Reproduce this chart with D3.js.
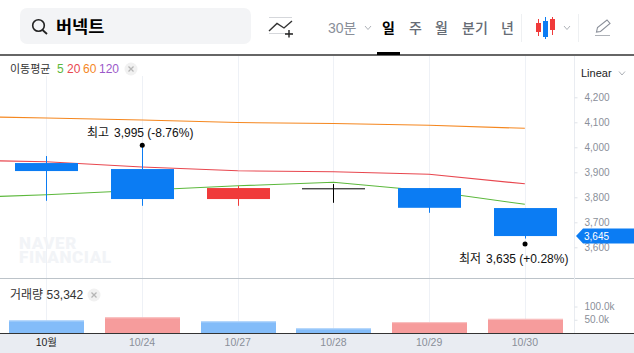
<!DOCTYPE html>
<html>
<head>
<meta charset="utf-8">
<script src="https://cdn.jsdelivr.net/npm/d3@7"></script>
<style>
body { margin: 0; background: #fff; overflow: hidden; }
text { font-family: "Liberation Sans", "Noto Sans CJK KR", sans-serif; }
.axis path { display: none; }
</style>
</head>
<body>
<div id="chart"></div>
<script>
const width = 634, height = 353;

// Values
const dates = ["10월", "10/24", "10/27", "10/28", "10/29", "10/30"];
const opens = [3937, 3913, 3793, 3836, 3837, 3757];
const closes = [3905, 3793, 3837, 3836, 3758, 3645];
const highs = [3965, 3995, 3845, 3853, 3837, 3757];
const lows = [3786, 3766, 3766, 3778, 3738, 3635];
const volumes = [47600, 59000, 44000, 17500, 41000, 53342];
const volumeUp = [false, true, false, false, true, true];
// first entry of each average belongs to the day before the view
const ma5 = [3797, 3810, 3828, 3846, 3860, 3825, 3772];
const ma20 = [3950, 3942, 3921, 3906, 3902, 3892, 3854];
const ma60 = [4125, 4117, 4109, 4099, 4095, 4088, 4076];
const priceTicks = [3600, 3700, 3800, 3900, 4000, 4100, 4200];
const volumeTicks = [50000, 100000];
const periods = ["일", "주", "월", "분기", "년"];

const blue = "#0b7cf3", red = "#f03a3a";
const tickFont = "\"Liberation Sans\", \"Noto Sans CJK KR\"";

const svg = d3.select("#chart").append("svg")
    .attr("width", width)
    .attr("height", height)
    .style("display", "block");

const x = d3.scaleBand().domain(dates).range([-1.5, 572.7]);
const cx = d => x(d) + x.bandwidth() / 2;
const maX = i => i === 0 ? cx(dates[0]) - x.step() : cx(dates[i - 1]);
const y = d3.scaleLinear().domain([3600, 4200]).range([247.3, 97.3]);
const yVol = d3.scaleLinear().domain([0, 100000]).range([333, 306.5]);

// Vertical grid lines
svg.append("g").selectAll("line").data(dates).join("line")
    .attr("x1", d => Math.round(cx(d)) + 0.5).attr("x2", d => Math.round(cx(d)) + 0.5)
    .attr("y1", (d, i) => i < 2 ? 76 : 56).attr("y2", 333)
    .attr("stroke", "#eef1f6");

// Watermark
svg.append("g").attr("fill", "#f2f4f7")
    .style("font-size", "17px").style("letter-spacing", "0.6px")
    .selectAll("text").data(["NAVER", "FINANCIAL"]).join("text")
    .style("font-family", "Roboto")
    .style("font-weight", 900)
    .attr("x", 19).attr("y", (d, i) => 249 + i * 14).text(d => d);

// Moving averages
const line = d3.line().x((d, i) => maX(i)).y(d => y(d)).curve(d3.curveLinear);
[[ma60, "#f5871f"], [ma20, "#e8474f"], [ma5, "#5cb83c"]].forEach(([s, c]) => {
    svg.append("path").datum(s)
        .attr("d", line)
        .attr("fill", "none")
        .attr("stroke", c)
        .attr("stroke-width", 1.1);
});

// Candles
const candle = svg.append("g").selectAll("g").data(dates).join("g");
const candleColor = (d, i) => closes[i] === opens[i] ? "#000" : (closes[i] > opens[i] ? red : blue);
candle.append("line")
    .attr("x1", d => Math.round(cx(d)) + 0.5).attr("x2", d => Math.round(cx(d)) + 0.5)
    .attr("y1", (d, i) => y(highs[i]) - (i === 1 ? 3 : 0))
    .attr("y2", (d, i) => y(lows[i]))
    .attr("stroke", candleColor);
candle.append("rect")
    .attr("x", d => Math.round(cx(d)) - 31)
    .attr("width", 63)
    .attr("y", (d, i) => y(Math.max(opens[i], closes[i])))
    .attr("height", (d, i) => Math.max(1, Math.abs(y(opens[i]) - y(closes[i]))))
    .attr("fill", candleColor);

// High and low markers
svg.append("circle").attr("cx", cx(dates[1]) + 0.2).attr("cy", y(d3.max(highs)) - 3.2).attr("r", 2.5).attr("fill", "#000");
svg.append("circle").attr("cx", cx(dates[5]) + 0.2).attr("cy", y(d3.min(lows)) + 5.5).attr("r", 2.5).attr("fill", "#000");
svg.append("text").attr("x", 87).attr("y", 137).attr("font-size", 12).attr("fill", "#111").text("최고");
svg.append("text").attr("x", 114).attr("y", 137).attr("font-size", 12).attr("fill", "#111").text("3,995 (-8.76%)");
svg.append("text").attr("x", 459).attr("y", 263).attr("font-size", 12).attr("fill", "#111").text("최저");
svg.append("text").attr("x", 486).attr("y", 263).attr("font-size", 12).attr("fill", "#111").text("3,635 (+0.28%)");

// Volume bars
const vol = svg.append("g").selectAll("g").data(dates).join("g");
vol.append("rect")
    .attr("x", d => Math.round(cx(d)) - 37).attr("width", 75)
    .attr("y", (d, i) => yVol(volumes[i]))
    .attr("height", (d, i) => 333 - yVol(volumes[i]))
    .attr("fill", (d, i) => volumeUp[i] ? "#f69c9c" : "#83bcf9");
vol.append("rect")
    .attr("x", d => Math.round(cx(d)) - 37).attr("width", 75)
    .attr("y", (d, i) => yVol(volumes[i]))
    .attr("height", 1)
    .attr("fill", (d, i) => volumeUp[i] ? "#f9c4c4" : "#bcdafb");

// Panel frame
svg.append("line").attr("x1", 0).attr("x2", width).attr("y1", 278.5).attr("y2", 278.5).attr("stroke", "#bcc3c9");
svg.append("line").attr("x1", 574.5).attr("x2", 574.5).attr("y1", 56).attr("y2", 333).attr("stroke", "#e9ecf1");
svg.append("rect").attr("x", 0).attr("y", 333.5).attr("width", width).attr("height", 20).attr("fill", "#e9ecf2");
svg.append("line").attr("x1", 0).attr("x2", width).attr("y1", 333.5).attr("y2", 333.5).attr("stroke", "#333");
svg.append("line").attr("x1", 0).attr("x2", width).attr("y1", 55).attr("y2", 55).attr("stroke", "#333").attr("stroke-width", 1.5);

// Axes
const priceAxis = svg.append("g").attr("class", "axis")
    .attr("transform", "translate(574.5,0)")
    .call(d3.axisRight(y).tickValues(priceTicks).tickSize(3).tickPadding(7).tickFormat(d3.format(",")));
const volAxis = svg.append("g").attr("class", "axis")
    .attr("transform", "translate(574.5,0)")
    .call(d3.axisRight(yVol).tickValues(volumeTicks).tickSize(3).tickPadding(7).tickFormat(d => d3.format(".1f")(d / 1000) + "k"));
[priceAxis, volAxis].forEach(a => {
    a.selectAll("line").attr("stroke", "#dfe3e8");
    a.selectAll("text").attr("fill", "#8a8f99").style("font-size", "10px").style("font-family", tickFont);
});
const dateAxis = svg.append("g").attr("class", "axis")
    .attr("transform", "translate(0,334)")
    .call(d3.axisBottom(x).tickSize(0).tickPadding(5));
dateAxis.selectAll("text")
    .attr("fill", (d, i) => i === 0 ? "#222" : "#8a8f99")
    .style("font-size", "10.5px")
    .style("font-family", tickFont);

// Last price tag
svg.append("path")
    .attr("d", `M576,${y(3645)}L583,${y(3645) - 7.5}H634V${y(3645) + 7.5}H583Z`)
    .attr("fill", blue);
svg.append("text").attr("x", 584).attr("y", y(3645) + 3.5)
    .attr("font-size", 10).attr("fill", "#fff").text("3,645");

// Indicator legends
const legend = svg.append("g").attr("font-size", 11);
legend.append("text").attr("x", 10).attr("y", 73).attr("fill", "#333").text("이동평균");
[["5", 57, "#5cb83c"], ["20", 67, "#e8474f"], ["60", 83, "#f5871f"], ["120", 99, "#9b59c9"]].forEach(t => {
    legend.append("text").attr("x", t[1]).attr("y", 73).attr("fill", t[2]).attr("font-size", 12).text(t[0]);
});
function closeBadge(cxp, cyp) {
    svg.append("circle").attr("cx", cxp).attr("cy", cyp).attr("r", 6.5).attr("fill", "#f1f1f1");
    svg.append("path").attr("d", `M${cxp - 2.5},${cyp - 2.5}l5,5m0,-5l-5,5`).attr("stroke", "#b5b5b5").attr("stroke-width", 1.3);
}
closeBadge(131, 69);
legend.append("text").attr("x", 10).attr("y", 299).attr("fill", "#333").attr("font-size", 12).text("거래량 53,342");
closeBadge(94, 295);

// Search box
svg.append("rect").attr("x", 20).attr("y", 8).attr("width", 231).attr("height", 36).attr("rx", 7).attr("fill", "#f3f4f6");
svg.append("circle").attr("cx", 38.5).attr("cy", 25.5).attr("r", 5.8).attr("fill", "none").attr("stroke", "#222").attr("stroke-width", 1.6);
svg.append("path").attr("d", "M42.5,30 L47,34").attr("stroke", "#222").attr("stroke-width", 1.8);
svg.append("text").attr("x", 56).attr("y", 33).attr("font-size", 17.5).attr("font-weight", 700).attr("fill", "#000").text("버넥트");

// Drawing tool icon
svg.append("path").attr("d", "M269,17.5H292M269,33.5H292").attr("stroke", "#d5d7db");
svg.append("path").attr("d", "M269,31L277,23.5L284,28L292,21").attr("fill", "none").attr("stroke", "#333").attr("stroke-width", 1.4);
svg.append("path").attr("d", "M289,30V37.5M285,34H293").attr("stroke", "#222").attr("stroke-width", 1.4);

// Period menu
svg.append("text").attr("x", 328).attr("y", 33).attr("font-size", 14).attr("fill", "#8a8f99").text("30분");
const chev = px => svg.append("path").attr("d", `M${px},26l3,3.5l3,-3.5`).attr("fill", "none").attr("stroke", "#aeb2b8");
chev(365);
svg.append("g").selectAll("text").data(periods).join("text")
    .attr("x", (d, i) => [382, 409, 435, 462, 501][i])
    .attr("y", 33)
    .attr("font-size", 14)
    .attr("font-weight", (d, i) => i === 0 ? 700 : 500)
    .attr("fill", (d, i) => i === 0 ? "#000" : "#666c75")
    .text(d => d);
svg.append("rect").attr("x", 377).attr("y", 52).attr("width", 23).attr("height", 3).attr("fill", "#000");
svg.append("line").attr("x1", 521.5).attr("x2", 521.5).attr("y1", 14).attr("y2", 42).attr("stroke", "#eef0f2");
svg.append("line").attr("x1", 578.5).attr("x2", 578.5).attr("y1", 14).attr("y2", 42).attr("stroke", "#eef0f2");

// Candle type icon
svg.append("path").attr("d", "M538.5,19V36M552.5,17V35").attr("stroke", red);
svg.append("path").attr("d", "M545.5,17V39").attr("stroke", blue);
svg.append("rect").attr("x", 536).attr("y", 23).attr("width", 5).attr("height", 9).attr("fill", red);
svg.append("rect").attr("x", 543).attr("y", 21).attr("width", 5).attr("height", 16).attr("fill", blue);
svg.append("rect").attr("x", 550).attr("y", 19).attr("width", 5).attr("height", 11).attr("fill", red);
chev(564);

// Pencil icon
svg.append("path").attr("d", "M596.5,32L597.5,27.5L607,20L610,23.5L600.5,31.5Z")
    .attr("fill", "none").attr("stroke", "#8a8f99").attr("stroke-width", 1.1);
svg.append("path").attr("d", "M595,35.5H610").attr("stroke", "#aeb2b8");

// Scale selector
svg.append("text").attr("x", 581).attr("y", 77).attr("font-size", 11).attr("fill", "#222").text("Linear");
svg.append("path").attr("d", "M619,71.5l3,3.5l3,-3.5").attr("fill", "none").attr("stroke", "#aeb2b8");
</script>
</body>
</html>
